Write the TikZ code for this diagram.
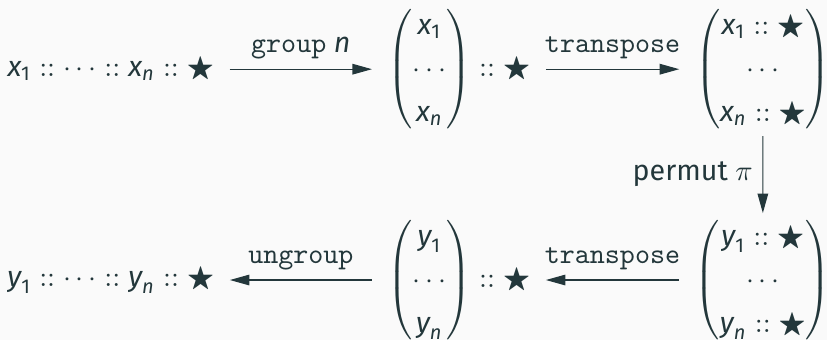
\documentclass[tikz,border=0pt]{standalone}
\usepackage{amssymb}
\usepackage{amsmath}
\usepackage{fontspec}
\setmainfont{Fira Sans}
\usetikzlibrary{arrows.meta}

\definecolor{ink}{HTML}{23373B}
\definecolor{paper}{HTML}{FAFAFA}
\renewcommand{\arraystretch}{1.27}
% list element with a sans subscript
\newcommand{\elem}[2]{\text{\itshape #1}_{\text{#2}}}
% column of groups, tall parentheses
\newcommand{\colv}[1]{\left(\rule[-18.8pt]{0pt}{43pt}\begin{matrix}#1\end{matrix}\right)}

\begin{document}
\begin{tikzpicture}[>={Triangle[length=2.4mm,width=1.3mm]}, color=ink, text=ink]
\fill[paper] (0,0) rectangle (10.16,-4.18);
\useasboundingbox (0,0) rectangle (10.16,-4.18);

% top row: list, grouped list, transposed groups
\node (xs) at (1.36,-0.85) {$\elem{x}{1} \mathrel{::} \cdots \mathrel{::} \elem{x}{\itshape n} \mathrel{::} \bigstar$};
\node[anchor=west] (xg) at (4.64,-0.85) {$\colv{\elem{x}{1} \\ \cdots \\ \elem{x}{\itshape n}} \mathrel{::} \bigstar$};
\node[anchor=east] (xt) at (10.33,-0.85) {$\colv{\elem{x}{1} \mathrel{::} \bigstar \\ \cdots \\ \elem{x}{\itshape n} \mathrel{::} \bigstar}$};
\draw[->, shorten <=2pt, shorten >=2pt] (xs) -- (xg) node[midway, above] {\texttt{group} \textit{n}};
\draw[->, shorten <=2pt, shorten >=2pt] (xg) -- (xt) node[midway, above] {\texttt{transpose}};

% permutation, going down on the right
\node[anchor=east] (yt) at (10.33,-3.44) {$\colv{\elem{y}{1} \mathrel{::} \bigstar \\ \cdots \\ \elem{y}{\itshape n} \mathrel{::} \bigstar}$};
\draw[->, shorten <=-3pt, shorten >=-3pt] (xt) -- (yt) node[midway, left] {permut $\pi$};

% bottom row, back to the left
\node[anchor=west] (yg) at (4.64,-3.44) {$\colv{\elem{y}{1} \\ \cdots \\ \elem{y}{\itshape n}} \mathrel{::} \bigstar$};
\node (ys) at (1.36,-3.44) {$\elem{y}{1} \mathrel{::} \cdots \mathrel{::} \elem{y}{\itshape n} \mathrel{::} \bigstar$};
\draw[->, shorten <=2pt, shorten >=2pt] (yt) -- (yg) node[midway, above] {\texttt{transpose}};
\draw[->, shorten <=2pt, shorten >=2pt] (yg) -- (ys) node[midway, above] {\texttt{ungroup}};

\end{tikzpicture}
\end{document}
